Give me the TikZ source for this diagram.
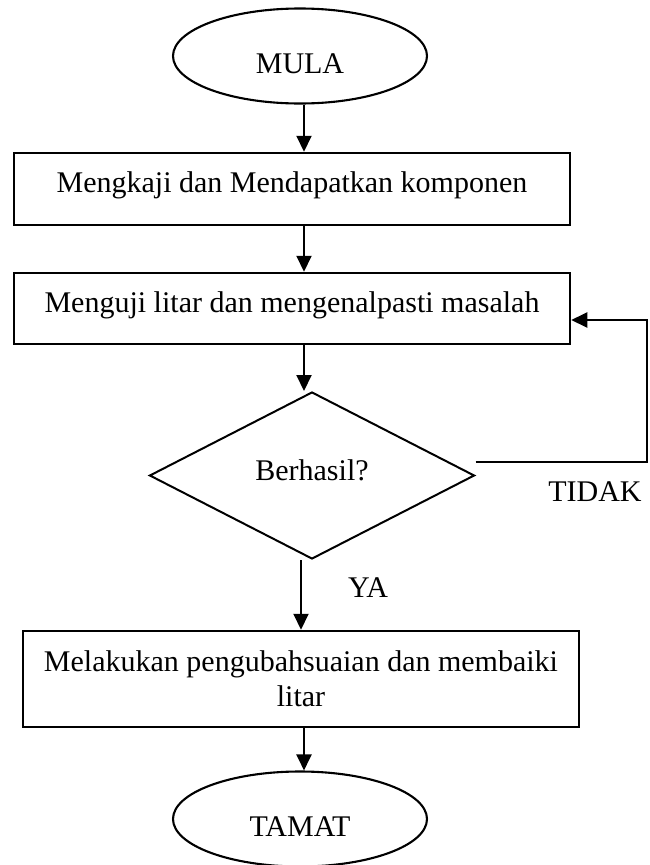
\documentclass[tikz,border=0pt]{standalone}
\usepackage{fontspec}
\setmainfont{Liberation Serif}
\usetikzlibrary{shapes.geometric,arrows.meta}

\begin{document}
\begin{tikzpicture}[x=1pt,y=-1pt,
  every node/.style={font=\fontsize{30}{35}\selectfont},
  proc/.style={draw,rectangle,line width=2.5pt,minimum width=556pt,inner sep=0pt},
  oneline/.style={text height=20pt,text depth=13pt},
  term/.style={draw,ellipse,line width=2.1pt,minimum width=254pt,minimum height=95pt,
               inner sep=0pt,text height=34pt,text depth=0pt},
  decide/.style={draw,diamond,line width=2pt,minimum width=325pt,minimum height=167pt,
                 inner sep=0pt,text height=20pt,text depth=11pt},
  flow/.style={line width=2pt,-{Triangle[length=16pt,width=15pt]}},
  lbl/.style={inner sep=0pt}
]
\useasboundingbox (0,0) rectangle (649,865);

% main column of the flowchart
\node[term] (mula) at (300,56) {MULA};
\node[proc,oneline,minimum height=72pt] (kaji) at (292,189) {Mengkaji dan Mendapatkan komponen};
\node[proc,oneline,minimum height=71pt] (uji) at (292,308.5) {Menguji litar dan mengenalpasti masalah};
\node[decide] (hasil) at (312,475.5) {Berhasil?};
\node[proc,minimum height=96pt,align=center] (baiki) at (301,679) {Melakukan pengubahsuaian dan membaiki\\litar};
\node[term] (tamat) at (300,819) {TAMAT};

% branch labels
\node[lbl] (ya) at (368,588) {YA};
\node[lbl] (tidak) at (595,492) {TIDAK};

% vertical line along which the downward arrows run
\coordinate (spine) at (304,0);
\coordinate (turn) at (647,462);

\draw[flow] (mula.south -| spine) -- (kaji.north -| spine);
\draw[flow] (kaji.south -| spine) -- (uji.north -| spine);
\draw[flow] (uji.south -| spine) -- (hasil.north -| spine);
\draw[flow] (hasil.south -| baiki.north) -- (baiki.north);
\draw[flow] (baiki.south -| spine) -- (tamat.north -| spine);

% loop back when the test fails
\draw[flow] ([yshift=13.5pt]hasil.east) -- (turn) |- ([yshift=-11.5pt]uji.east);
\end{tikzpicture}
\end{document}
